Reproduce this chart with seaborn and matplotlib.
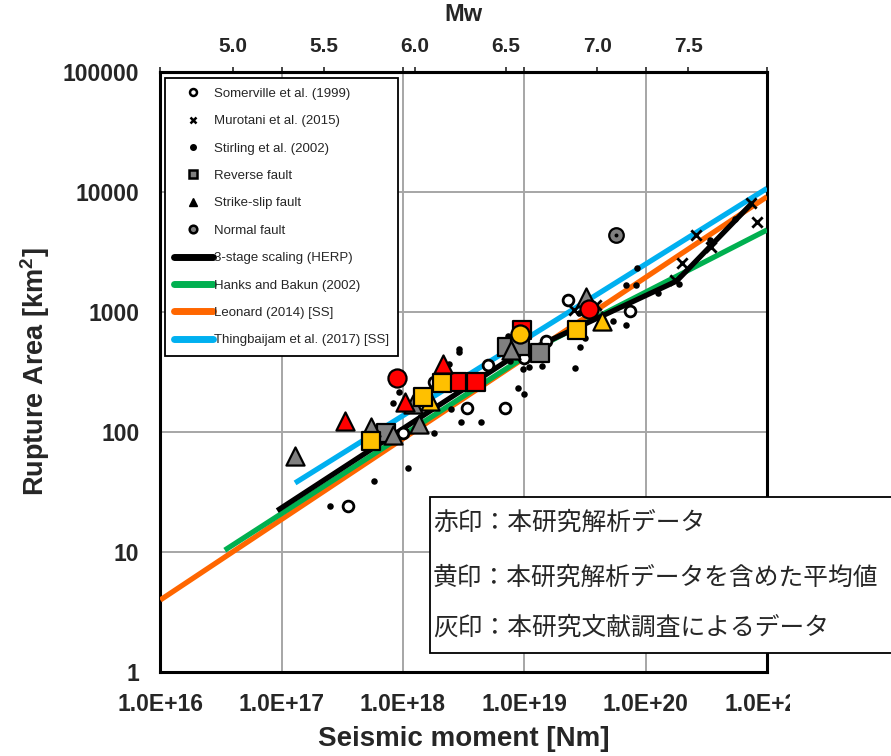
import numpy as np
import pandas as pd
import matplotlib
matplotlib.use("Agg")
import matplotlib.pyplot as plt
from matplotlib import font_manager
from matplotlib.lines import Line2D
from matplotlib.patches import Rectangle
from matplotlib.ticker import NullLocator
from matplotlib.transforms import Bbox, TransformedBbox
import seaborn as sns

# ---- values: seismic moment [Nm], rupture area [km2] ----
somerville_m0 = [3.5e17, 1.0e18, 1.8e18, 3.4e18, 6.9e18, 5.0e18, 1.0e19, 1.5e19, 2.3e19, 7.5e19]
somerville_area = [24, 97, 260, 157, 157, 360, 410, 570, 1240, 1010]

murotani_m0 = [2.56e19, 3.9e19, 1.75e20, 2.0e20, 2.6e20, 3.45e20, 7.4e20, 8.2e20]
murotani_area = [1030, 1140, 1840, 2530, 4350, 3480, 8000, 5600]

stirling_m0 = [2.5e17, 5.8e17, 1.1e18, 8.2e17, 9.3e17, 1.8e18, 2.5e18, 3.0e18, 4.4e18,
               2.9e18, 2.9e18, 2.4e18, 7.4e18, 8.9e18, 9.9e18, 7.6e18, 9.8e18, 1.1e19,
               1.4e19, 2.6e19, 2.9e19, 3.15e19, 2.8e19, 5.4e19, 6.9e19, 6.9e19, 8.4e19,
               8.5e19, 1.26e20, 1.9e20, 3.4e20, 5.5e20]
stirling_area = [24, 39, 50, 173, 213, 97, 156, 120, 120,
                 460, 490, 366, 630, 233, 206, 390, 333, 348,
                 356, 337, 510, 600, 970, 840, 775, 1670, 1670,
                 2300, 1420, 1690, 3960, 5900]

# reverse fault (squares)
rev_gray_m0 = [7.3e17, 7.2e18, 9.2e18, 1.34e19]
rev_gray_area = [98, 508, 518, 450]
rev_red_m0 = [2.8e18, 4.0e18, 9.5e18]
rev_red_area = [261, 261, 700]
rev_yellow_m0 = [5.4e17, 1.47e18, 2.1e18, 2.7e19]
rev_yellow_area = [83, 196, 255, 704]

# strike-slip fault (triangles)
ss_gray_m0 = [1.3e17, 5.5e17, 8.2e17, 1.2e18, 1.36e18, 7.7e18, 3.2e19]
ss_gray_area = [63, 109, 94, 169, 115, 480, 1330]
ss_red_m0 = [3.3e17, 1.04e18, 2.15e18]
ss_red_area = [123, 178, 365]
ss_yellow_m0 = [1.67e18, 4.35e19]
ss_yellow_area = [180, 830]

# normal fault (circles)
nf_gray_m0 = [5.7e19]
nf_gray_area = [4360]
nf_red_m0 = [8.9e17, 3.4e19]
nf_red_area = [280, 1050]
nf_yellow_m0 = [9.3e18]
nf_yellow_area = [650]

# scaling relations (end / break points)
herp_m0 = [9.2e16, 7.5e18, 1.8e20, 7.5e20]
herp_area = [22, 400, 1800, 8000]
hanks_m0 = [3.4e16, 1.46e19, 1.0e21]
hanks_area = [10.3, 537, 4800]
leonard_m0 = [1.0e16, 1.0e21]
leonard_area = [3.96, 9080]
thing_m0 = [1.29e17, 1.0e21]
thing_area = [37.4, 10660]

xtick_vals = [1e16, 1e17, 1e18, 1e19, 1e20, 1e21]
xtick_labels = ["1.0E+16", "1.0E+17", "1.0E+18", "1.0E+19", "1.0E+20", "1.0E+21"]
ytick_vals = [1, 10, 100, 1000, 10000, 100000]
ytick_labels = ["1", "10", "100", "1000", "10000", "100000"]
mw_ticks = [5.0, 5.5, 6.0, 6.5, 7.0, 7.5]

notes = ["赤印：本研究解析データ",
         "黄印：本研究解析データを含めた平均値",
         "灰印：本研究文献調査によるデータ"]

RED, YELLOW, GRAY = "#FF0000", "#FFC000", "#808080"
C_HERP, C_HANKS, C_LEONARD, C_THING = "black", "#00B050", "#FF6600", "#00B0F0"

sns.set_style("white")
plt.rcParams["font.family"] = ["Liberation Sans", "DejaVu Sans"]
plt.rcParams["mathtext.default"] = "regular"

fig = plt.figure(figsize=(8.91, 7.56), dpi=100)
ax = fig.add_axes([160.3 / 891, 1 - 671.7 / 756, 606.7 / 891, 600 / 756])

# scaling lines
for xs, ys, c in [(leonard_m0, leonard_area, C_LEONARD),
                  (hanks_m0, hanks_area, C_HANKS),
                  (thing_m0, thing_area, C_THING),
                  (herp_m0, herp_area, C_HERP)]:
    sns.lineplot(x=xs, y=ys, color=c, lw=3.8, sort=False, estimator=None, ax=ax,
                 solid_capstyle="butt", zorder=3)

# literature points
sns.scatterplot(x=stirling_m0, y=stirling_area, color="black", s=22, linewidth=0, ax=ax, zorder=4)
sns.scatterplot(x=somerville_m0, y=somerville_area, facecolor="white", edgecolor="black",
                s=60, linewidth=2, ax=ax, zorder=4)
sns.scatterplot(x=murotani_m0, y=murotani_area, color="black", marker="x", s=55,
                linewidth=2, ax=ax, zorder=4)


def fault_points(xs, ys, color, marker, size):
    sns.scatterplot(x=xs, y=ys, color=color, marker=marker, s=size, edgecolor="black",
                    linewidth=1.6, ax=ax, zorder=5)


fault_points(rev_gray_m0, rev_gray_area, GRAY, "s", 150)
fault_points(ss_gray_m0, ss_gray_area, GRAY, "^", 170)
fault_points(nf_gray_m0, nf_gray_area, GRAY, "o", 110)
sns.scatterplot(x=nf_gray_m0, y=nf_gray_area, color="black", s=8, linewidth=0, ax=ax, zorder=6)
fault_points(rev_red_m0, rev_red_area, RED, "s", 150)
fault_points(ss_red_m0, ss_red_area, RED, "^", 170)
fault_points(nf_red_m0, nf_red_area, RED, "o", 170)
fault_points(ss_yellow_m0, ss_yellow_area, YELLOW, "^", 170)
fault_points(rev_yellow_m0, rev_yellow_area, YELLOW, "s", 150)
fault_points(nf_yellow_m0, nf_yellow_area, YELLOW, "o", 170)

ax.set_xscale("log")
ax.set_yscale("log")
ax.set_xlim(1e16, 1e21)
ax.set_ylim(1, 1e5)
ax.set_xticks(xtick_vals)
ax.set_xticklabels(xtick_labels)
ax.set_yticks(ytick_vals)
ax.set_yticklabels(ytick_labels)
ax.xaxis.set_minor_locator(NullLocator())
ax.yaxis.set_minor_locator(NullLocator())
ax.grid(True, which="major", color="#A6A6A6", lw=1.4, zorder=0)
ax.set_axisbelow(True)
for sp in ax.spines.values():
    sp.set_color("black")
    sp.set_linewidth(2.2)

tick_font = font_manager.FontProperties(family="Liberation Sans", weight="bold", size=16.5)
ax.tick_params(axis="x", which="major", bottom=False, top=True, labelbottom=True,
               labeltop=False, direction="out", length=3.6, width=1.2, pad=12)
ax.tick_params(axis="y", which="major", left=False, length=0, pad=15)
for lab in ax.get_xticklabels() + ax.get_yticklabels():
    lab.set_fontproperties(tick_font)
# the last bottom label is cut off at the picture edge in the reference
ax.get_xticklabels()[-1].set_clip_box(TransformedBbox(Bbox([[0, 0], [790 / 891, 1]]), fig.transFigure))
ax.get_xticklabels()[-1].set_clip_on(True)

ax.set_xlabel("Seismic moment [Nm]", fontsize=20, fontweight="bold", labelpad=7)
ax.set_ylabel(r"Rupture Area [km$^2$]", fontsize=19.5, fontweight="bold", labelpad=8)


# Mw axis on top
def m0_to_mw(m0):
    m0 = np.clip(np.asarray(m0, dtype=float), 1e-300, None)
    return (np.log10(m0) - 9.1) / 1.5


def mw_to_m0(mw):
    return 10 ** (1.5 * np.asarray(mw, dtype=float) + 9.1)


secax = ax.secondary_xaxis("top", functions=(m0_to_mw, mw_to_m0))
secax.set_xticks(mw_ticks)
secax.set_xticklabels([f"{v:.1f}" for v in mw_ticks])
secax.xaxis.set_minor_locator(NullLocator())
secax.tick_params(direction="out", length=3.6, width=1.2, pad=8)
for lab in secax.get_xticklabels():
    lab.set_fontproperties(font_manager.FontProperties(family="Liberation Sans", weight="bold", size=15))
secax.spines["top"].set_linewidth(2.2)
secax.set_xlabel("Mw", fontsize=17, fontweight="bold", labelpad=11)

# legend
leg_handles = [
    Line2D([], [], ls="none", marker="o", mfc="white", mec="black", mew=1.8, ms=5),
    Line2D([], [], ls="none", marker="x", color="black", mew=1.8, ms=4.5),
    Line2D([], [], ls="none", marker="o", color="black", ms=4),
    Line2D([], [], ls="none", marker="s", mfc=GRAY, mec="black", mew=1.8, ms=5.5),
    Line2D([], [], ls="none", marker="^", color="black", ms=6),
    Line2D([], [], ls="none", marker="o", mfc=GRAY, mec="black", mew=1.8, ms=5.5),
    Line2D([], [], color=C_HERP, lw=5),
    Line2D([], [], color=C_HANKS, lw=5),
    Line2D([], [], color=C_LEONARD, lw=5),
    Line2D([], [], color=C_THING, lw=5),
]
leg_labels = ["Somerville et al. (1999)", "Murotani et al. (2015)", "Stirling et al. (2002)",
              "Reverse fault", "Strike-slip fault", "Normal fault", "3-stage scaling (HERP)",
              "Hanks and Bakun (2002)", "Leonard (2014) [SS]", "Thingbaijam et al. (2017) [SS]"]
leg = ax.legend(leg_handles, leg_labels, loc="upper left",
                bbox_to_anchor=(4.7 / 606.7, (671.7 - 78.3) / 600), borderaxespad=0,
                frameon=True, fancybox=False, edgecolor="black", framealpha=1,
                fontsize=9.5, handlelength=2.9, handletextpad=0.1, labelspacing=1.15,
                borderpad=0.7)
leg.get_frame().set_linewidth(1.3)
leg.set_zorder(10)

# note box laid over the lower right corner
fig.add_artist(Rectangle((430 / 891, 1 - 653 / 756), 0.6, 156 / 756, transform=fig.transFigure,
                         facecolor="white", edgecolor="black", lw=1.3, zorder=20))
for yy, txt in zip([523, 578, 628], notes):
    fig.text(433 / 891, 1 - yy / 756, txt, fontsize=17.8, va="center", ha="left",
             family=["Noto Sans CJK JP", "DejaVu Sans"], zorder=21)

fig.savefig("out.png", dpi=100)
